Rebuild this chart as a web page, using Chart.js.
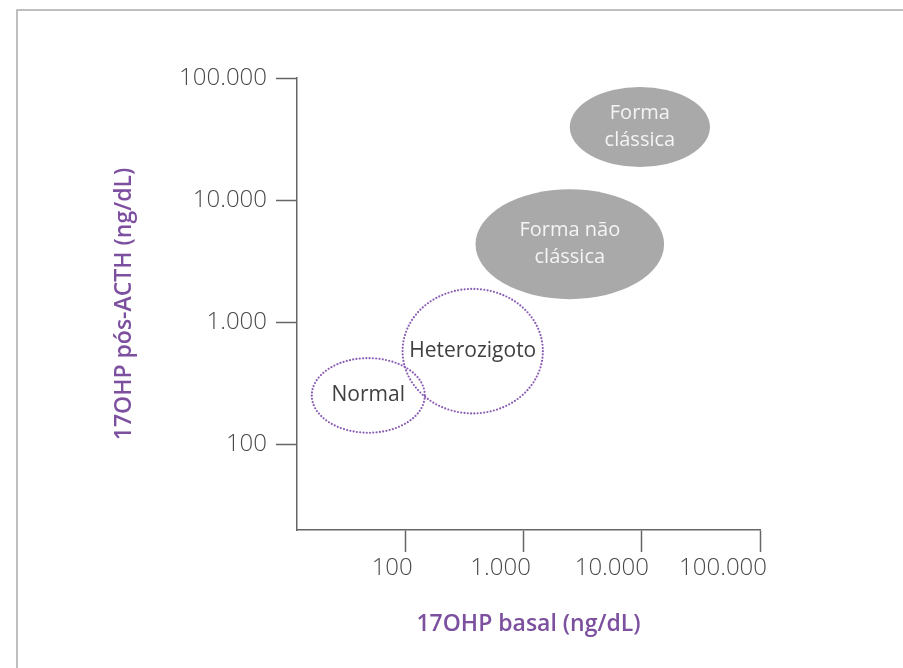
<!DOCTYPE html>
<html lang="pt-BR">
<head>
<meta charset="utf-8">
<title>17OHP basal x 17OHP pós-ACTH</title>
<script src="https://cdn.jsdelivr.net/npm/chart.js@4/dist/chart.umd.min.js"></script>
<style>
  html, body { margin: 0; padding: 0; background: #ffffff; }
  #wrap { position: relative; width: 903px; height: 668px; }
  canvas { display: block; }
</style>
</head>
<body>
<div id="wrap"><canvas id="chart" width="903" height="668"></canvas></div>
<script>
// Axis ticks (log scale, ng/dL)
const tickValues = [100, 1000, 10000, 100000];
const tickLabels = ['100', '1.000', '10.000', '100.000'];

// Diagnostic regions: extent on each axis in ng/dL
const regionNames = [['Forma', 'clássica'], ['Forma não', 'clássica'], ['Heterozigoto'], ['Normal']];
const regionBasalMin = [2450, 390, 94, 16];
const regionBasalMax = [37700, 15400, 1450, 145];
const regionActhMin = [18700, 1550, 180, 125];
const regionActhMax = [84500, 12300, 1880, 510];
const regionFilled = [true, true, false, false];

const FONT = "'Open Sans', 'Noto Sans', sans-serif";
const PURPLE = '#7c4f9f';
const AXIS_GREY = '#666666';

// Ellipses for each region, drawn through the chart's scales
const regionPlugin = {
  id: 'regions',
  beforeDraw(chart) {
    const ctx = chart.ctx;
    ctx.save();
    ctx.fillStyle = '#ffffff';
    ctx.fillRect(0, 0, chart.width, chart.height);
    // page frame
    ctx.strokeStyle = '#ababab';
    ctx.lineWidth = 1.5;
    ctx.beginPath();
    ctx.moveTo(17, chart.height);
    ctx.lineTo(17, 10);
    ctx.lineTo(chart.width, 10);
    ctx.stroke();
    ctx.restore();
  },
  afterDraw(chart) {
    const {ctx, scales: {x, y}} = chart;
    const shapes = regionNames.map((name, i) => {
      const x0 = x.getPixelForValue(regionBasalMin[i]);
      const x1 = x.getPixelForValue(regionBasalMax[i]);
      const y0 = y.getPixelForValue(regionActhMax[i]);
      const y1 = y.getPixelForValue(regionActhMin[i]);
      return {name, filled: regionFilled[i], cx: (x0 + x1) / 2, cy: (y0 + y1) / 2, rx: (x1 - x0) / 2, ry: (y1 - y0) / 2};
    });
    ctx.save();
    shapes.forEach(s => {
      ctx.beginPath();
      ctx.ellipse(s.cx, s.cy, s.rx, s.ry, 0, 0, Math.PI * 2);
      if (s.filled) {
        ctx.fillStyle = '#a9a9a9';
        ctx.fill();
      } else {
        ctx.setLineDash([0, 3.3]);
        ctx.lineCap = 'round';
        ctx.lineWidth = 2.2;
        ctx.strokeStyle = '#8a5db5';
        ctx.stroke();
        ctx.setLineDash([]);
      }
    });
    ctx.textAlign = 'center';
    ctx.textBaseline = 'middle';
    shapes.forEach(s => {
      ctx.font = s.filled ? '400 20px ' + FONT : '400 21px ' + FONT;
      ctx.fillStyle = s.filled ? '#f4f4f4' : '#404040';
      const lh = 27;
      const start = s.cy - (s.name.length - 1) * lh / 2;
      s.name.forEach((line, k) => ctx.fillText(line, s.cx, start + k * lh));
    });
    ctx.restore();
  }
};

function fixTicks(scale) {
  scale.ticks = tickValues.map(v => ({value: v}));
}
function tickText(value) {
  const i = tickValues.indexOf(value);
  return i >= 0 ? tickLabels[i] : '';
}

new Chart(document.getElementById('chart'), {
  type: 'scatter',
  data: { datasets: [] },
  plugins: [regionPlugin],
  options: {
    responsive: false,
    animation: false,
    devicePixelRatio: 1,
    layout: { padding: { top: 78, right: 143, bottom: 0, left: 0 } },
    plugins: { legend: { display: false }, tooltip: { enabled: false } },
    scales: {
      x: {
        type: 'logarithmic',
        position: 'bottom',
        min: 12,
        max: 100000,
        afterBuildTicks: fixTicks,
        afterFit(scale) { scale.height = 138; },
        border: { display: true, color: AXIS_GREY, width: 1.5 },
        grid: { display: true, drawOnChartArea: false, drawTicks: true, tickLength: 22, tickWidth: 1.5, tickColor: AXIS_GREY, color: AXIS_GREY },
        ticks: {
          autoSkip: false, maxRotation: 0, padding: 2,
          align: 'end', labelOffset: 7,
          color: '#4a4a4a',
          font: { family: FONT, size: 24, weight: '300' },
          callback: tickText
        },
        title: {
          display: true,
          text: '17OHP basal (ng/dL)',
          color: PURPLE,
          font: { family: FONT, size: 23, weight: '600' },
          padding: { top: 0, bottom: 30 }
        }
      },
      y: {
        type: 'logarithmic',
        position: 'left',
        min: 20,
        max: 100000,
        afterBuildTicks: fixTicks,
        afterFit(scale) { scale.width = 297; },
        border: { display: true, color: AXIS_GREY, width: 1.5 },
        grid: { display: true, drawOnChartArea: false, drawTicks: true, tickLength: 21, tickWidth: 1.5, tickColor: AXIS_GREY, color: AXIS_GREY },
        ticks: {
          autoSkip: false, padding: 9,
          color: '#4a4a4a',
          font: { family: FONT, size: 24, weight: '300' },
          callback: tickText
        },
        title: {
          display: true,
          text: '17OHP pós-ACTH (ng/dL)',
          color: PURPLE,
          font: { family: FONT, size: 23, weight: '600' },
          padding: { top: 111, bottom: 0 }
        }
      }
    }
  }
});
</script>
</body>
</html>
